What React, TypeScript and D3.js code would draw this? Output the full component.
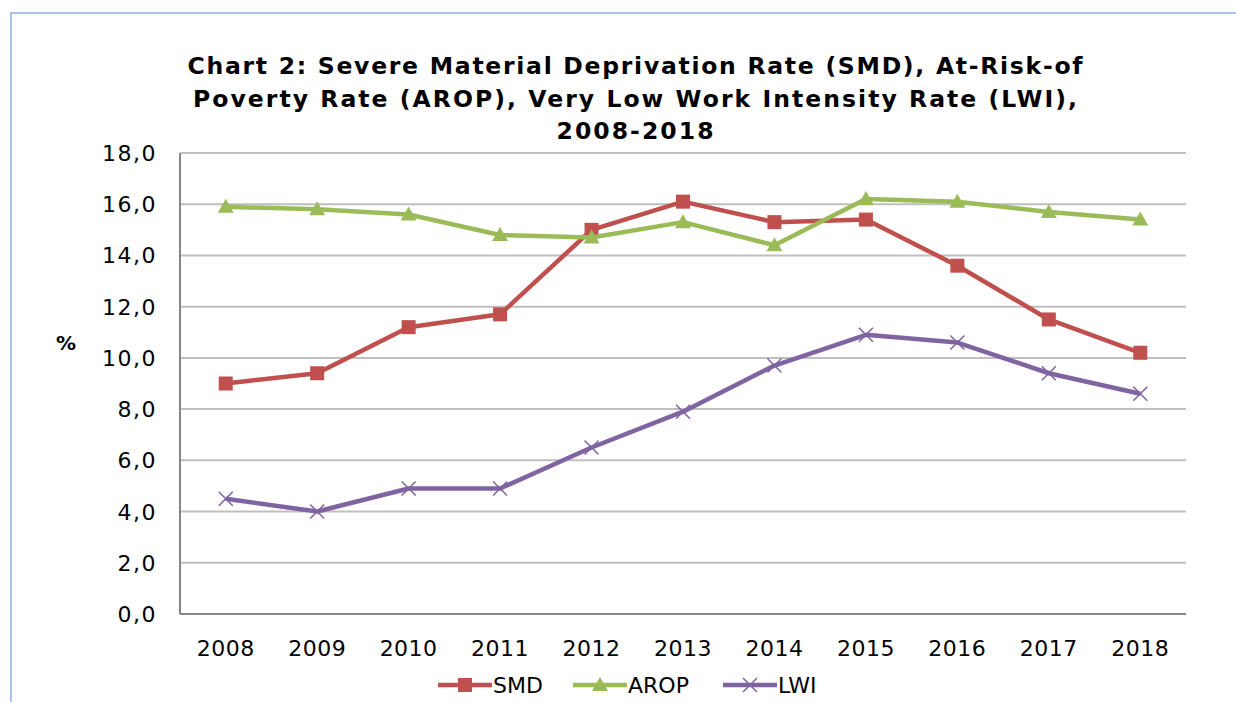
import { useEffect, useRef } from "react";
import * as d3 from "d3";

const years = ["2008", "2009", "2010", "2011", "2012", "2013", "2014", "2015", "2016", "2017", "2018"];
const smd = [9.0, 9.4, 11.2, 11.7, 15.0, 16.1, 15.3, 15.4, 13.6, 11.5, 10.2];
const arop = [15.9, 15.8, 15.6, 14.8, 14.7, 15.3, 14.4, 16.2, 16.1, 15.7, 15.4];
const lwi = [4.5, 4.0, 4.9, 4.9, 6.5, 7.9, 9.7, 10.9, 10.6, 9.4, 8.6];
const yTicks = [0, 2, 4, 6, 8, 10, 12, 14, 16, 18];
const titleLines = [
  "Chart 2: Severe Material Deprivation Rate (SMD), At-Risk-of",
  "Poverty Rate (AROP), Very Low Work Intensity Rate (LWI),",
  "2008-2018",
];
const titleWidths = [895, 884, 157];

const series = [
  { name: "SMD", values: smd, color: "#c0504d", marker: "square" },
  { name: "AROP", values: arop, color: "#9bbb59", marker: "triangle" },
  { name: "LWI", values: lwi, color: "#8064a2", marker: "x" },
];

const font = "Verdana, 'DejaVu Sans', sans-serif";

function drawMarker(g: any, type: string, x: number, y: number, color: string) {
  if (type === "square") {
    g.append("rect").attr("x", x - 7).attr("y", y - 7).attr("width", 14).attr("height", 14).attr("fill", color);
  } else if (type === "triangle") {
    g.append("path")
      .attr("d", `M${x},${y - 8} L${x + 8},${y + 6} L${x - 8},${y + 6} Z`)
      .attr("fill", color);
  } else {
    g.append("path")
      .attr("d", `M${x - 7},${y - 7} L${x + 7},${y + 7} M${x - 7},${y + 7} L${x + 7},${y - 7}`)
      .attr("stroke", color)
      .attr("stroke-width", 1.5);
  }
}

const App = () => {
  const svgRef = useRef<SVGSVGElement>(null);

  useEffect(() => {
    const svg = d3.select(svgRef.current);
    svg.selectAll("*").remove();

    const width = 1236;
    const height = 702;
    const margin = { top: 153, right: 50, bottom: 88, left: 180 };

    svg.append("rect").attr("width", width).attr("height", height).attr("fill", "#fff");

    // frame
    svg.append("path")
      .attr("d", `M11,${height} L11,13 L${width},13`)
      .attr("fill", "none")
      .attr("stroke", "#a9c4e6")
      .attr("stroke-width", 2);

    const x = d3.scaleBand().domain(years).range([margin.left, width - margin.right]);
    const y = d3.scaleLinear().domain([0, 18]).range([height - margin.bottom, margin.top]);

    // title
    svg.append("g")
      .selectAll("text")
      .data(titleLines)
      .enter()
      .append("text")
      .attr("x", (d, i) => 635 - titleWidths[i] / 2)
      .attr("y", (d, i) => 74 + i * 32.5)
      .attr("textLength", (d, i) => titleWidths[i])
      .attr("lengthAdjust", "spacing")
      .attr("font-family", font)
      .attr("font-weight", "bold")
      .attr("font-size", 23.5)
      .attr("fill", "#000")
      .text(d => d);

    // gridlines
    svg.append("g")
      .selectAll("line")
      .data(yTicks.filter(t => t > 0))
      .enter()
      .append("line")
      .attr("x1", margin.left)
      .attr("x2", width - margin.right)
      .attr("y1", d => y(d))
      .attr("y2", d => y(d))
      .attr("stroke", "#bfbfbf")
      .attr("stroke-width", 2);

    // axes lines
    svg.append("line")
      .attr("x1", margin.left).attr("x2", margin.left)
      .attr("y1", y(18)).attr("y2", y(0))
      .attr("stroke", "#868686").attr("stroke-width", 2);
    svg.append("line")
      .attr("x1", margin.left).attr("x2", width - margin.right)
      .attr("y1", y(0)).attr("y2", y(0))
      .attr("stroke", "#868686").attr("stroke-width", 2);

    // y labels
    svg.append("g")
      .selectAll("text")
      .data(yTicks)
      .enter()
      .append("text")
      .attr("x", margin.left - 23)
      .attr("y", d => y(d) + 8)
      .attr("text-anchor", "end")
      .attr("font-family", font)
      .attr("font-size", 22)
      .attr("letter-spacing", 1.5)
      .attr("fill", "#000")
      .text(d => d.toFixed(1).replace(".", ","));

    // x labels
    svg.append("g")
      .selectAll("text")
      .data(years)
      .enter()
      .append("text")
      .attr("x", d => (x(d) as number) + x.bandwidth() / 2)
      .attr("y", height - margin.bottom + 42)
      .attr("text-anchor", "middle")
      .attr("font-family", font)
      .attr("font-size", 22)
      .attr("letter-spacing", 0.5)
      .attr("fill", "#000")
      .text(d => d);

    svg.append("text")
      .attr("x", 66).attr("y", 350)
      .attr("text-anchor", "middle")
      .attr("font-family", font)
      .attr("font-weight", "bold")
      .attr("font-size", 20)
      .text("%");

    const line = d3.line<number>()
      .x((d, i) => (x(years[i]) as number) + x.bandwidth() / 2)
      .y(d => y(d));

    series.forEach(s => {
      const g = svg.append("g");
      g.append("path")
        .attr("d", line(s.values))
        .attr("fill", "none")
        .attr("stroke", s.color)
        .attr("stroke-width", 4.5)
        .attr("stroke-linejoin", "round");
      s.values.forEach((v, i) => {
        drawMarker(g, s.marker, (x(years[i]) as number) + x.bandwidth() / 2, y(v), s.color);
      });
    });

    // legend
    const legendX = [438, 573, 723];
    series.forEach((s, i) => {
      const g = svg.append("g");
      const lx = legendX[i];
      const ly = 685;
      g.append("line")
        .attr("x1", lx).attr("x2", lx + 54)
        .attr("y1", ly).attr("y2", ly)
        .attr("stroke", s.color).attr("stroke-width", 4.5);
      drawMarker(g, s.marker, lx + 27, ly, s.color);
      g.append("text")
        .attr("x", lx + 55)
        .attr("y", ly + 8)
        .attr("font-family", font)
        .attr("font-size", 22)
        .attr("fill", "#000")
        .text(s.name);
    });
  }, []);

  return (
    <svg
      ref={svgRef}
      width={1236}
      height={702}
      style={{ display: "block", position: "absolute", left: 0, top: 0 }}
    ></svg>
  );
};

export default App;
